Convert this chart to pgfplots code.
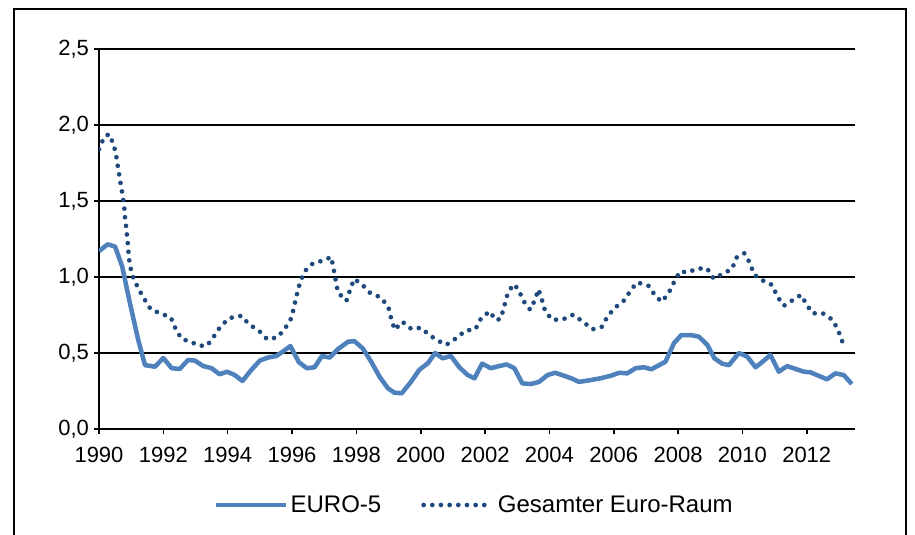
\documentclass[border=0pt]{standalone}
\usepackage{fontspec}
\setmainfont{Liberation Sans}
\usepackage{pgfplots}
\pgfplotsset{compat=1.18}
\definecolor{eurofive}{RGB}{79,129,189}
\definecolor{euroraum}{RGB}{31,73,125}
\begin{document}
\begin{tikzpicture}
\useasboundingbox (-74.25pt,-79.5pt) rectangle (612pt,321.75pt);
\draw[line width=1.5pt] (-63.75pt,-95pt) -- (-63.75pt,315pt) -- (605.25pt,315pt) -- (605.25pt,-95pt);
\begin{axis}[
 at={(0pt,0pt)}, anchor=south west,
 width=567pt, height=285pt, scale only axis,
 xmin=1990, xmax=2013.5, ymin=0, ymax=2.5,
 axis x line=bottom, axis y line=left,
 axis line style={-, line width=1.5pt, black},
 xtick={1990,1992,1994,1996,1998,2000,2002,2004,2006,2008,2010,2012},
 ytick={0,0.5,1,1.5,2,2.5},
 ymajorgrids, grid style={line width=1.2pt, black},
 tick style={line width=1.2pt, black}, tick align=outside, major tick length=4pt,
 /pgf/number format/assume math mode=true,
 x tick label style={/pgf/number format/1000 sep={}, yshift=-6pt},
 y tick label style={/pgf/number format/.cd, use comma, fixed, fixed zerofill, precision=1},
 tick label style={font=\fontsize{16.5}{19}\selectfont},
 legend style={at={(0.497,-0.2)}, anchor=center, draw=none, font=\fontsize{18}{21}\selectfont, legend columns=2, /tikz/every even column/.append style={column sep=28pt}},
 legend image code/.code={\draw[#1] (0pt,0pt) -- (52pt,0pt);},
]
\addplot[eurofive, line width=3.4pt, line join=round] coordinates {
(1990.00,1.17) (1990.27,1.215) (1990.50,1.20) (1990.72,1.07) (1990.96,0.83)
(1991.22,0.585) (1991.43,0.42) (1991.74,0.41) (1992.00,0.467) (1992.26,0.40)
(1992.51,0.395) (1992.77,0.454) (1992.98,0.45) (1993.24,0.414) (1993.50,0.40)
(1993.75,0.36) (1993.98,0.377) (1994.22,0.355) (1994.46,0.316) (1994.74,0.39)
(1995.00,0.45) (1995.25,0.47) (1995.51,0.48) (1995.72,0.51) (1995.95,0.546)
(1996.21,0.44) (1996.46,0.40) (1996.70,0.406) (1996.93,0.48) (1997.17,0.47)
(1997.42,0.524) (1997.74,0.574) (1997.94,0.578) (1998.20,0.53) (1998.46,0.443)
(1998.72,0.344) (1998.98,0.268) (1999.18,0.239) (1999.41,0.235) (1999.70,0.311)
(1999.96,0.39) (2000.22,0.432) (2000.45,0.50) (2000.68,0.465) (2000.94,0.48)
(2001.20,0.406) (2001.46,0.355) (2001.67,0.333) (2001.91,0.43) (2002.18,0.40)
(2002.44,0.414) (2002.67,0.425) (2002.91,0.40) (2003.16,0.30) (2003.43,0.296)
(2003.68,0.31) (2003.94,0.355) (2004.18,0.37) (2004.46,0.35) (2004.72,0.33)
(2004.92,0.31) (2005.23,0.32) (2005.58,0.333) (2005.91,0.35) (2006.17,0.37)
(2006.42,0.366) (2006.68,0.40) (2006.94,0.406) (2007.17,0.393) (2007.41,0.42)
(2007.61,0.443) (2007.87,0.564) (2008.10,0.618) (2008.39,0.618) (2008.65,0.607)
(2008.91,0.553) (2009.13,0.465) (2009.37,0.43) (2009.58,0.42) (2009.89,0.50)
(2010.15,0.476) (2010.41,0.406) (2010.63,0.443) (2010.87,0.487) (2011.13,0.377)
(2011.39,0.414) (2011.65,0.395) (2011.91,0.377) (2012.11,0.373) (2012.37,0.35)
(2012.63,0.327) (2012.89,0.366) (2013.15,0.355) (2013.40,0.296)
};
\addlegendentry{EURO-5}
\addplot[euroraum, line width=3.5pt, line cap=round, dash pattern=on 0pt off 6.5pt] coordinates {
(1990.00,1.84) (1990.16,1.92) (1990.31,1.94) (1990.46,1.87) (1990.54,1.79)
(1990.60,1.71) (1990.66,1.63) (1990.72,1.555) (1990.78,1.47) (1990.81,1.39)
(1990.85,1.316) (1990.89,1.235) (1990.92,1.153) (1990.96,1.075) (1991.06,0.998)
(1991.22,0.925) (1991.41,0.855) (1991.61,0.787) (1991.90,0.761) (1992.23,0.735)
(1992.38,0.66) (1992.57,0.592) (1992.85,0.574) (1993.11,0.548) (1993.36,0.548)
(1993.58,0.612) (1993.79,0.678) (1994.06,0.73) (1994.43,0.745) (1994.66,0.689)
(1994.97,0.647) (1995.23,0.59) (1995.55,0.603) (1995.79,0.664) (1995.98,0.73)
(1996.07,0.81) (1996.15,0.884) (1996.25,0.965) (1996.39,1.037) (1996.65,1.09)
(1997.00,1.11) (1997.22,1.132) (1997.29,1.055) (1997.36,0.975) (1997.43,0.897)
(1997.69,0.843) (1997.80,0.912) (1997.93,0.987) (1998.16,0.954) (1998.42,0.897)
(1998.75,0.866) (1998.99,0.807) (1999.08,0.728) (1999.19,0.653) (1999.43,0.706)
(1999.71,0.658) (2000.01,0.666) (2000.28,0.616) (2000.56,0.579) (2000.79,0.553)
(2001.10,0.597) (2001.39,0.647) (2001.70,0.656) (2001.87,0.726) (2002.14,0.774)
(2002.34,0.715) (2002.49,0.726) (2002.59,0.803) (2002.69,0.88) (2002.87,0.952)
(2003.03,0.923) (2003.18,0.847) (2003.40,0.785) (2003.54,0.844) (2003.66,0.919)
(2003.77,0.849) (2003.87,0.774) (2004.10,0.717) (2004.45,0.724) (2004.74,0.752)
(2005.04,0.706) (2005.34,0.656) (2005.64,0.673) (2005.81,0.742) (2006.04,0.798)
(2006.34,0.849) (2006.53,0.914) (2006.73,0.965) (2007.09,0.941) (2007.29,0.877)
(2007.49,0.837) (2007.71,0.895) (2007.88,0.969) (2008.06,1.037) (2008.31,1.03)
(2008.58,1.055) (2008.90,1.057) (2009.11,0.989) (2009.38,1.02) (2009.68,1.053)
(2009.81,1.127) (2010.06,1.156) (2010.24,1.09) (2010.36,1.015) (2010.66,0.974)
(2010.93,0.947) (2011.08,0.873) (2011.29,0.811) (2011.52,0.842) (2011.82,0.882)
(2012.00,0.818) (2012.18,0.761) (2012.50,0.761) (2012.81,0.717) (2012.98,0.647)
(2013.11,0.572)
};
\addlegendentry{Gesamter Euro-Raum}
\end{axis}
\end{tikzpicture}
\end{document}
